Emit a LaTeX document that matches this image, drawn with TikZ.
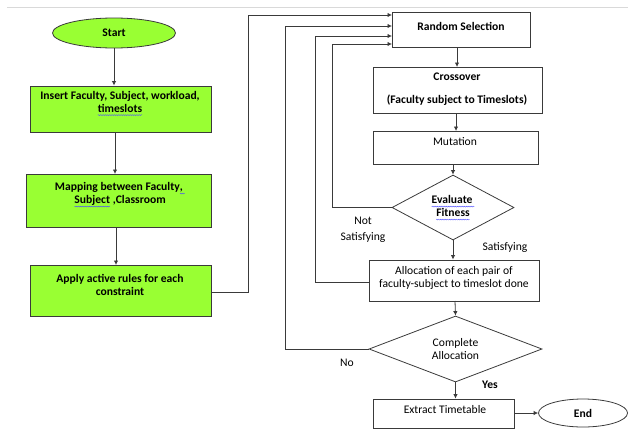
\documentclass[tikz,border=0pt]{standalone}
\usepackage{fontspec}
\setmainfont{Carlito}
\usetikzlibrary{shapes.geometric,arrows.meta,decorations.pathmorphing}
\definecolor{boxgreen}{HTML}{99FF33}
\definecolor{linegray}{HTML}{3A3A3A}
\newcommand\sqw[1]{\tikz[baseline=(w.base)]{\node[inner sep=0pt,outer sep=0pt] (w) {#1};
  \draw[blue!70, line width=0.35pt, decorate, decoration={snake, amplitude=0.45pt, segment length=1.8pt}]
  ([yshift=-2.6pt]w.base west) -- ([yshift=-2.6pt]w.base east);}}
\begin{document}
\begin{tikzpicture}[x=1pt,y=-1pt,
  every node/.style={font=\fontsize{11.6}{13}\selectfont, inner sep=0pt, align=center},
  gbox/.style={draw=linegray, line width=0.9pt, fill=boxgreen, rectangle},
  wbox/.style={draw=linegray, line width=0.9pt, fill=white, rectangle},
  dia/.style={draw=linegray, line width=0.8pt, diamond},
  oval/.style={draw=linegray, line width=0.8pt, ellipse},
  conn/.style={draw=linegray, line width=0.8pt},
  arr/.style={conn, -{Latex[length=4.5pt,width=4.5pt]}},
  bf/.style={font=\fontsize{11.6}{13}\selectfont\bfseries}]
\useasboundingbox (0,0) rectangle (628,431);
\draw[black!15, line width=1pt] (7,7) -- (628,7);

% left column
\node[oval, fill=boxgreen, minimum width=123pt, minimum height=30pt, bf] (start) at (114,33) {Start};
\node[gbox, minimum width=181pt, minimum height=46pt] (b1) at (120.5,109) {};
\node[bf] (t1) at (120,103.5) {Insert Faculty, Subject, workload,\\\sqw{timeslots}};
\node[gbox, minimum width=185pt, minimum height=53pt] (b2) at (118.5,200.5) {};
\node[bf] (t2) at (120,195) {Mapping between Faculty\sqw{,\,}\\\sqw{Subject} ,Classroom};
\node[gbox, minimum width=181pt, minimum height=51pt] (b3) at (120.5,290.5) {};
\node[bf] (t3) at (120,284.5) {Apply active rules for each\\constraint};

\draw[arr] (start.south) -- (start.south |- b1.north);
\draw[arr] (115,132) -- (115,174);
\draw[arr] (116,227) -- (116,265);

% right column
\node[wbox, minimum width=138pt, minimum height=35pt] (rs) at (461,29.5) {};
\node[bf] (trs) at (461,26) {Random Selection};
\node[wbox, minimum width=169pt, minimum height=46pt] (cross) at (457.5,90) {};
\node[bf] (tc1) at (457,77) {Crossover};
\node[bf] (tc2) at (457,100) {(Faculty subject to Timeslots)};
\node[wbox, minimum width=165pt, minimum height=33pt] (mut) at (455.5,147.5) {};
\node (tmut) at (455,142) {Mutation};
\node[dia, minimum width=122pt, minimum height=65pt] (eval) at (453,207.5) {};
\node[bf] (teval) at (453,208) {\sqw{Evaluate\,}\\\sqw{Fitness}};
\node[wbox, minimum width=170pt, minimum height=41pt] (alloc) at (454,280.5) {};
\node (talloc) at (454,277.5) {Allocation of each pair of\\faculty-subject to timeslot done};
\node[dia, minimum width=173pt, minimum height=66pt] (comp) at (455.5,349) {};
\node (tcomp) at (455.5,349) {Complete\\Allocation};
\node[wbox, minimum width=141pt, minimum height=29pt] (ext) at (443.5,413.5) {};
\node (text) at (445,410) {Extract Timetable};
\node[oval, minimum width=89pt, minimum height=28pt, bf] (end) at (583,413) {End};

% labels
\node (lnot) at (363,230) {Not\\[3pt]Satisfying};
\node (lsat) at (505,247) {Satisfying};
\node (lno) at (347,363) {No};
\node[bf] (lyes) at (490,385) {Yes};

% main flow
\draw[arr] (457,47) -- (457,67);
\draw[arr] (456,113) -- (456,131);
\draw[arr] (453,164) -- (eval.north);
\draw[arr] (eval.south) -- (eval.south |- alloc.north);
\draw[arr] (455,301) -- (comp.north);
\draw[arr] (comp.south) -- (comp.south |- ext.north);
\draw[arr] (ext.east |- 0,413) -- (end.west);

% feedback loops
\coordinate (in1) at (392,15);
\coordinate (in2) at (392,26);
\coordinate (in3) at (392,36);
\coordinate (in4) at (392,44);
\draw[arr] (b3.east |- 0,292) -- (248,292) -- (248,15) -- (in1);
\draw[arr] (comp.west) -- (285,349) -- (285,26) -- (in2);
\draw[arr] (alloc.west |- 0,282) -- (315,282) -- (315,36) -- (in3);
\draw[arr] (eval.west) -- (332,207.5) -- (332,44) -- (in4);
\end{tikzpicture}
\end{document}
